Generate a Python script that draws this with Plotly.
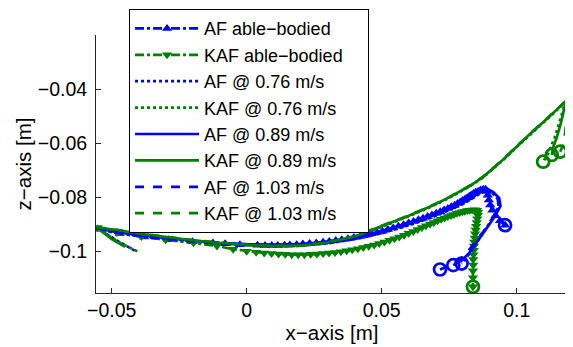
import plotly.graph_objects as go

BLUE = "#0000FF"
GREEN = "#008000"

# ---- data (metres) ----
af_able_x = [-0.0552, -0.0470, -0.0380, -0.0290, -0.0200, -0.0125, -0.0080, -0.0025, 0.0040, 0.0068,
             0.0093, 0.0115, 0.0140, 0.0160, 0.0185, 0.0208, 0.0233, 0.0258, 0.0283, 0.0306,
             0.0330, 0.0352, 0.0375, 0.0397, 0.0420, 0.0441, 0.0462, 0.0483, 0.0503, 0.0523,
             0.0543, 0.0562, 0.0581, 0.0600, 0.0618, 0.0636, 0.0653, 0.0670, 0.0686, 0.0702,
             0.0717, 0.0731, 0.0745, 0.0758, 0.0770, 0.0781, 0.0791, 0.0800, 0.0809, 0.0817,
             0.0825, 0.0832, 0.0840, 0.0848, 0.0857, 0.0866, 0.0876, 0.0885, 0.0890, 0.0893,
             0.0897, 0.0902, 0.0910, 0.0922, 0.0938, 0.0957]
af_able_z = [-0.0918, -0.0934, -0.0947, -0.0957, -0.0964, -0.0969, -0.0972, -0.0975, -0.0977, -0.0978,
             -0.0978, -0.0978, -0.0977, -0.0976, -0.0975, -0.0973, -0.0971, -0.0969, -0.0966, -0.0963,
             -0.0960, -0.0957, -0.0953, -0.0949, -0.0945, -0.0940, -0.0935, -0.0930, -0.0925, -0.0919,
             -0.0913, -0.0907, -0.0901, -0.0895, -0.0889, -0.0883, -0.0877, -0.0871, -0.0865, -0.0859,
             -0.0853, -0.0847, -0.0841, -0.0835, -0.0829, -0.0823, -0.0817, -0.0812, -0.0806, -0.0801,
             -0.0796, -0.0791, -0.0786, -0.0781, -0.0777, -0.0773, -0.0770, -0.0770, -0.0778, -0.0792,
             -0.0810, -0.0828, -0.0848, -0.0868, -0.0887, -0.0903]

kaf_able_x = [-0.0552, -0.0480, -0.0390, -0.0300, -0.0197, -0.0110, -0.0050, 0.0000, 0.0035, 0.0065,
              0.0092, 0.0118, 0.0143, 0.0167, 0.0191, 0.0214, 0.0237, 0.0260, 0.0283, 0.0305,
              0.0327, 0.0349, 0.0370, 0.0391, 0.0412, 0.0432, 0.0452, 0.0472, 0.0491, 0.0510,
              0.0529, 0.0547, 0.0565, 0.0583, 0.0600, 0.0617, 0.0633, 0.0649, 0.0664, 0.0679,
              0.0693, 0.0707, 0.0720, 0.0733, 0.0745, 0.0757, 0.0768, 0.0779, 0.0789, 0.0799,
              0.0808, 0.0817, 0.0826, 0.0835, 0.0845, 0.0853, 0.0857, 0.0856, 0.0854, 0.0852,
              0.0850, 0.0848, 0.0846, 0.0845, 0.0843, 0.0842, 0.0841, 0.0840, 0.0839, 0.0839,
              0.0838, 0.0838, 0.0838]
kaf_able_z = [-0.0912, -0.0930, -0.0945, -0.0957, -0.0968, -0.0980, -0.0992, -0.0999, -0.1003, -0.1006,
              -0.1008, -0.1010, -0.1011, -0.1012, -0.1012, -0.1012, -0.1011, -0.1010, -0.1008, -0.1006,
              -0.1004, -0.1001, -0.0998, -0.0994, -0.0990, -0.0986, -0.0981, -0.0976, -0.0971, -0.0965,
              -0.0959, -0.0953, -0.0947, -0.0940, -0.0933, -0.0926, -0.0919, -0.0912, -0.0905, -0.0899,
              -0.0893, -0.0887, -0.0881, -0.0876, -0.0871, -0.0867, -0.0863, -0.0859, -0.0856, -0.0853,
              -0.0851, -0.0849, -0.0848, -0.0847, -0.0846, -0.0848, -0.0855, -0.0866, -0.0879, -0.0893,
              -0.0907, -0.0921, -0.0935, -0.0950, -0.0965, -0.0980, -0.0996, -0.1012, -0.1030, -0.1050,
              -0.1072, -0.1098, -0.1131]

af_076_x = [-0.0415, -0.0480, -0.0552, -0.0500, -0.0400, -0.0300, -0.0200, -0.0100, 0.0000, 0.0100,
            0.0200, 0.0300, 0.0400, 0.0500, 0.0600, 0.0680, 0.0750, 0.0800, 0.0850, 0.0885,
            0.0910, 0.0932, 0.0935, 0.0915, 0.0890, 0.0860, 0.0830, 0.0810, 0.0796]
af_076_z = [-0.0997, -0.0960, -0.0915, -0.0928, -0.0942, -0.0953, -0.0962, -0.0970, -0.0976, -0.0979,
            -0.0978, -0.0970, -0.0955, -0.0933, -0.0903, -0.0876, -0.0848, -0.0825, -0.0795, -0.0772,
            -0.0785, -0.0805, -0.0830, -0.0870, -0.0910, -0.0955, -0.1000, -0.1030, -0.1045]

af_089_x = [-0.0555, -0.0500, -0.0400, -0.0300, -0.0200, -0.0100, 0.0000, 0.0100, 0.0200, 0.0300,
            0.0400, 0.0500, 0.0600, 0.0680, 0.0750, 0.0800, 0.0850, 0.0889, 0.0912, 0.0935,
            0.0940, 0.0918, 0.0888, 0.0855, 0.0825, 0.0795, 0.0765]
af_089_z = [-0.0913, -0.0925, -0.0940, -0.0951, -0.0960, -0.0968, -0.0973, -0.0975, -0.0973, -0.0965,
            -0.0950, -0.0927, -0.0897, -0.0869, -0.0841, -0.0818, -0.0789, -0.0767, -0.0780, -0.0802,
            -0.0832, -0.0872, -0.0915, -0.0960, -0.1005, -0.1035, -0.1051]

af_103_x = [-0.0555, -0.0500, -0.0400, -0.0300, -0.0200, -0.0100, 0.0000, 0.0100, 0.0200, 0.0300,
            0.0400, 0.0500, 0.0600, 0.0680, 0.0750, 0.0800, 0.0850, 0.0887, 0.0910, 0.0930,
            0.0933, 0.0910, 0.0880, 0.0845, 0.0810, 0.0770, 0.0716]
af_103_z = [-0.0912, -0.0926, -0.0942, -0.0954, -0.0963, -0.0971, -0.0976, -0.0978, -0.0976, -0.0968,
            -0.0953, -0.0931, -0.0901, -0.0873, -0.0845, -0.0822, -0.0793, -0.0770, -0.0783, -0.0806,
            -0.0836, -0.0878, -0.0922, -0.0968, -0.1012, -0.1045, -0.1067]

kaf_076_x = [-0.0405, -0.0480, -0.0552, -0.0480, -0.0400, -0.0300, -0.0200, -0.0100, 0.0000, 0.0100,
             0.0200, 0.0300, 0.0400, 0.0457, 0.0520, 0.0600, 0.0680, 0.0750, 0.0827, 0.0876,
             0.0950, 0.1000, 0.1055, 0.1100, 0.1140, 0.1170, 0.1180, 0.1165, 0.1140, 0.1115,
             0.1098]
kaf_076_z = [-0.1000, -0.0962, -0.0913, -0.0922, -0.0935, -0.0948, -0.0960, -0.0970, -0.0977, -0.0981,
             -0.0980, -0.0968, -0.0946, -0.0924, -0.0902, -0.0870, -0.0836, -0.0802, -0.0759, -0.0726,
             -0.0662, -0.0614, -0.0562, -0.0522, -0.0486, -0.0457, -0.0447, -0.0500, -0.0580, -0.0640,
             -0.0668]

kaf_089_x = [-0.0450, -0.0500, -0.0554, -0.0480, -0.0400, -0.0300, -0.0200, -0.0100, 0.0000, 0.0100,
             0.0200, 0.0300, 0.0400, 0.0457, 0.0520, 0.0600, 0.0680, 0.0750, 0.0827, 0.0876,
             0.0950, 0.1000, 0.1055, 0.1100, 0.1140, 0.1172, 0.1182, 0.1165, 0.1148, 0.1136,
             0.1130]
kaf_089_z = [-0.0983, -0.0955, -0.0912, -0.0921, -0.0934, -0.0947, -0.0959, -0.0969, -0.0976, -0.0980,
             -0.0979, -0.0967, -0.0945, -0.0923, -0.0900, -0.0868, -0.0834, -0.0800, -0.0757, -0.0724,
             -0.0660, -0.0612, -0.0560, -0.0520, -0.0484, -0.0455, -0.0444, -0.0520, -0.0580, -0.0612,
             -0.0643]

kaf_103_x = [-0.0555, -0.0480, -0.0400, -0.0300, -0.0200, -0.0100, 0.0000, 0.0100, 0.0200, 0.0300,
             0.0400, 0.0457, 0.0520, 0.0600, 0.0680, 0.0750, 0.0827, 0.0876, 0.0950, 0.1000,
             0.1055, 0.1100, 0.1140, 0.1172, 0.1183, 0.1184, 0.1180, 0.1172, 0.1161]
kaf_103_z = [-0.0911, -0.0920, -0.0933, -0.0946, -0.0958, -0.0968, -0.0975, -0.0979, -0.0978, -0.0966,
             -0.0944, -0.0922, -0.0899, -0.0867, -0.0833, -0.0799, -0.0756, -0.0723, -0.0659, -0.0611,
             -0.0559, -0.0519, -0.0483, -0.0454, -0.0443, -0.0500, -0.0560, -0.0605, -0.0631]

x_ticks = [-0.05, 0, 0.05, 0.1]
x_ticktext = ["\u22120.05", "0", "0.05", "0.1"]
z_ticks = [-0.1, -0.08, -0.06, -0.04]
z_ticktext = ["\u22120.1", "\u22120.08", "\u22120.06", "\u22120.04"]

FONT = "Liberation Sans, Arial, sans-serif"
LW = 2.7
PAD = "\u00a0" * 4   # right padding inside the legend box

fig = go.Figure()

def add(x, z, name, color, dash, marker=None):
    kw = dict(x=x, y=z, name=name + PAD, legendgroup=name,
              line=dict(color=color, width=LW, dash=dash))
    if marker:
        kw["mode"] = "lines+markers"
        kw["marker"] = dict(symbol=marker, size=9, color=color)
    else:
        kw["mode"] = "lines"
    fig.add_trace(go.Scatter(**kw))

add(af_able_x, af_able_z, "AF able\u2212bodied", BLUE, "dashdot", "triangle-up")
add(kaf_able_x, kaf_able_z, "KAF able\u2212bodied", GREEN, "dashdot", "triangle-down")
add(af_076_x, af_076_z, "AF @ 0.76 m/s", BLUE, "dot")
add(kaf_076_x, kaf_076_z, "KAF @ 0.76 m/s", GREEN, "dot")
add(af_089_x, af_089_z, "AF @ 0.89 m/s", BLUE, "solid")
add(kaf_089_x, kaf_089_z, "KAF @ 0.89 m/s", GREEN, "solid")
add(af_103_x, af_103_z, "AF @ 1.03 m/s", BLUE, "dash")
add(kaf_103_x, kaf_103_z, "KAF @ 1.03 m/s", GREEN, "dash")

# end-point circles taken from the last sample of each series
blue_series = [af_able_x, af_076_x, af_089_x, af_103_x]
blue_series_z = [af_able_z, af_076_z, af_089_z, af_103_z]
green_series = [kaf_able_x, kaf_076_x, kaf_089_x, kaf_103_x]
green_series_z = [kaf_able_z, kaf_076_z, kaf_089_z, kaf_103_z]
for xs, zs, col in [(blue_series, blue_series_z, BLUE), (green_series, green_series_z, GREEN)]:
    fig.add_trace(go.Scatter(
        x=[s[-1] for s in xs], y=[s[-1] for s in zs], mode="markers", showlegend=False,
        marker=dict(symbol="circle-open", size=12, color=col, line=dict(width=2.7, color=col))))

axis_common = dict(showgrid=False, zeroline=False, showline=True, linecolor="#262626", linewidth=1,
                   ticks="inside", ticklen=5, tickcolor="#262626", mirror=False, automargin=False,
                   tickfont=dict(family=FONT, size=19.5, color="#000"))

# the page body adds an 8px offset, so the figure is 8px smaller and margins compensate
fig.update_layout(
    width=565, height=339,
    margin=dict(l=88, r=5, t=27, b=54, autoexpand=False),
    paper_bgcolor="white", plot_bgcolor="white",
    font=dict(family=FONT, color="#000"),
    xaxis=dict(range=[-0.0558, 0.119], tickvals=x_ticks, ticktext=x_ticktext,
               title=dict(text="x\u2212axis [m]", font=dict(family=FONT, size=20.5), standoff=0),
               **axis_common),
    yaxis=dict(range=[-0.1154, -0.0199], tickvals=z_ticks, ticktext=z_ticktext,
               title=dict(text="z\u2212axis [m]", font=dict(family=FONT, size=20.5), standoff=0),
               ticklabelstandoff=4, **axis_common),
    legend=dict(x=0.07, y=1.10, xanchor="left", yanchor="top",
                bgcolor="white", bordercolor="#000", borderwidth=1,
                font=dict(family=FONT, size=18, color="#000"),
                tracegroupgap=0, itemwidth=64, maxheight=330),
    showlegend=True,
)

fig.write_html("out.html")
